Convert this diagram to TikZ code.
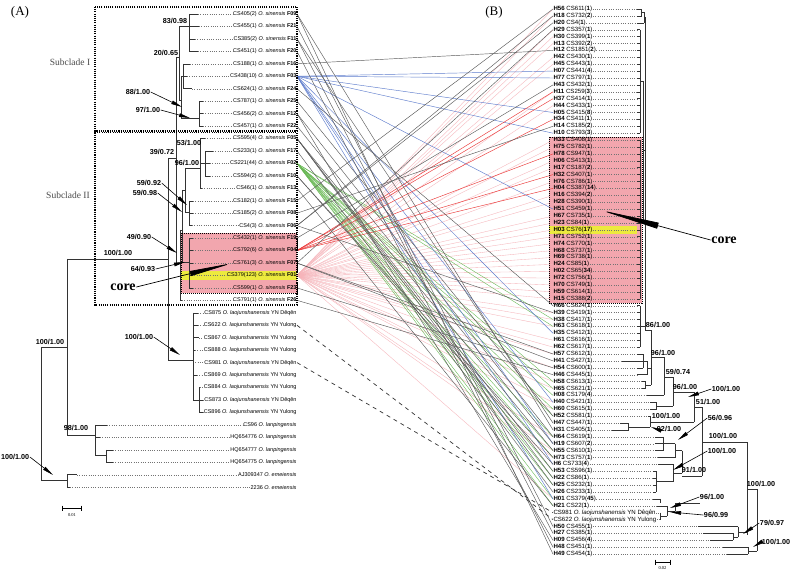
\documentclass[tikz,border=0pt]{standalone}
\usepackage{fontspec}
\setmainfont{Liberation Sans}
\newfontfamily\seriffont{Liberation Serif}
\usetikzlibrary{arrows.meta}
\definecolor{pinkbox}{RGB}{242,166,174}
\definecolor{yelband}{RGB}{236,234,62}
\definecolor{cblue}{RGB}{95,125,205}
\definecolor{cgreen}{RGB}{105,185,85}
\definecolor{cred}{RGB}{235,55,55}
\definecolor{cpink}{RGB}{246,180,186}
\definecolor{cgray}{RGB}{90,90,90}
\newcommand{\LL}[4]{\node[lleaf] (#1) at (297,{14+12.45*#2}) {#4};\draw[leader] (#3,{14+12.45*#2}) -- (#1.west);}
\newcommand{\RL}[4]{\node[rleaf] (#1) at (553,{9+6.9*#2}) {#4};\draw[leader] (#1.east) -- (#3,{9+6.9*#2});}
\newcommand{\Os}{\textit{O. sinensis}}
\newcommand{\Ol}{\textit{O. laojunshanensis}}
\newcommand{\Op}{\textit{O. lanpingensis}}
\newcommand{\Oe}{\textit{O. emeiensis}}
\begin{document}
\begin{tikzpicture}[x=1pt,y=-1pt,
  lleaf/.style={anchor=east,inner sep=0.3pt,font=\fontsize{5.5}{6}\selectfont},
  rleaf/.style={anchor=west,inner sep=0.3pt,font=\fontsize{6.1}{6.5}\selectfont},
  leader/.style={dotted,line width=0.3pt,black!55},
  br/.style={line width=0.55pt,black!80},
  suplab/.style={font=\bfseries\fontsize{7.2}{8}\selectfont,inner sep=0.5pt},
  sarr/.style={line width=0.6pt,-{Triangle[length=11pt,width=3.6pt]}},
  carr/.style={line width=0.7pt,-{Triangle[length=44pt,width=5pt]}},
  corelab/.style={font=\seriffont\bfseries\fontsize{14}{16}\selectfont,inner sep=0.5pt},
  panel/.style={font=\seriffont\fontsize{13}{15}\selectfont,inner sep=0pt},
  subcl/.style={font=\seriffont\fontsize{9.5}{11}\selectfont,text=black!70,inner sep=0pt},
  boxd/.style={line width=1.1pt,dash pattern=on 1.1pt off 1.1pt},
  cg/.style={line width=0.45pt,cgray},
  cb/.style={line width=0.45pt,cblue},
  cgr/.style={line width=0.4pt,cgreen},
  cr/.style={line width=0.45pt,cred},
  cp/.style={line width=0.35pt,cpink},
  cd/.style={line width=0.7pt,black!80,dash pattern=on 4pt off 4pt}]
\useasboundingbox (0,0) rectangle (790,572);
\fill[white] (0,0) rectangle (790,572);
% ---------- backgrounds
\fill[pinkbox] (181,233) rectangle (297,293);
\fill[yelband] (181,271) rectangle (297,280);
\fill[pinkbox] (549,137) rectangle (642,303);
\fill[yelband] (549,226) rectangle (637,234);
% ---------- left leaves
\LL{L0}{0}{198}{CS405(2) \Os{} \textbf{F09}}
\LL{L1}{1}{199}{CS455(1) \Os{} \textbf{F21}}
\LL{L2}{2}{195}{CS385(2) \Os{} \textbf{F11}}
\LL{L3}{3}{198}{CS451(1) \Os{} \textbf{F20}}
\LL{L4}{4}{190}{CS188(1) \Os{} \textbf{F16}}
\LL{L5}{5}{187}{CS438(10) \Os{} \textbf{F03}}
\LL{L6}{6}{192}{CS624(1) \Os{} \textbf{F24}}
\LL{L7}{7}{203}{CS787(1) \Os{} \textbf{F25}}
\LL{L8}{8}{203}{CS456(2) \Os{} \textbf{F12}}
\LL{L9}{9}{203}{CS457(1) \Os{} \textbf{F22}}
\LL{L10}{10}{205}{CS595(4) \Os{} \textbf{F05}}
\LL{L11}{11}{213}{CS233(1) \Os{} \textbf{F17}}
\LL{L12}{12}{210}{CS221(44) \Os{} \textbf{F02}}
\LL{L13}{13}{210}{CS594(2) \Os{} \textbf{F10}}
\LL{L14}{14}{202}{CS46(1) \Os{} \textbf{F13}}
\LL{L15}{15}{193}{CS182(1) \Os{} \textbf{F15}}
\LL{L16}{16}{193}{CS185(2) \Os{} \textbf{F08}}
\LL{L17}{17}{192}{CS4(3) \Os{} \textbf{F06}}
\LL{L18}{18}{193}{CS432(1) \Os{} \textbf{F19}}
\LL{L19}{19}{193}{CS792(6) \Os{} \textbf{F04}}
\LL{L20}{20}{193}{CS761(3) \Os{} \textbf{F07}}
\LL{L21}{21}{192}{CS379(123) \Os{} \textbf{F01}}
\LL{L22}{22}{193}{CS599(1) \Os{} \textbf{F23}}
\LL{L23}{23}{182}{CS791(1) \Os{} \textbf{F26}}
\LL{L24}{24}{198}{CS875 \Ol{} YN Dêqên}
\LL{L25}{25}{198}{CS622 \Ol{} YN Yulong}
\LL{L26}{26}{199}{CS867 \Ol{} YN Yulong}
\LL{L27}{27}{195}{CS888 \Ol{} YN Yulong}
\LL{L28}{28}{193}{CS981 \Ol{} YN Dêqên}
\LL{L29}{29}{197}{CS869 \Ol{} YN Yulong}
\LL{L30}{30}{200}{CS884 \Ol{} YN Yulong}
\LL{L31}{31}{203}{CS873 \Ol{} YN Dêqên}
\LL{L32}{32}{203}{CS896 \Ol{} YN Yulong}
\LL{L33}{33}{107}{CS96 \Op}
\LL{L34}{34}{100}{HQ654776 \Op}
\LL{L35}{35}{113}{HQ654777 \Op}
\LL{L36}{36}{113}{HQ654775 \Op}
\LL{L37}{37}{77}{AJ309347 \Oe}
\LL{L38}{38}{70}{2236 \Oe}
% ---------- right leaves
\RL{R0}{0}{637}{\textbf{H56} CS611(\textbf{1})}
\RL{R1}{1}{637}{\textbf{H18} CS732(\textbf{2})}
\RL{R2}{2}{637}{\textbf{H20} CS4(\textbf{1})}
\RL{R3}{3}{637}{\textbf{H29} CS357(\textbf{1})}
\RL{R4}{4}{637}{\textbf{H30} CS399(\textbf{1})}
\RL{R5}{5}{637}{\textbf{H13} CS392(\textbf{2})}
\RL{R6}{6}{637}{\textbf{H12} CS1851(\textbf{2})}
\RL{R7}{7}{637}{\textbf{H42} CS430(\textbf{1})}
\RL{R8}{8}{637}{\textbf{H45} CS443(\textbf{1})}
\RL{R9}{9}{637}{\textbf{H07} CS441(\textbf{4})}
\RL{R10}{10}{637}{\textbf{H77} CS797(\textbf{1})}
\RL{R11}{11}{637}{\textbf{H43} CS432(\textbf{1})}
\RL{R12}{12}{637}{\textbf{H11} CS259(\textbf{3})}
\RL{R13}{13}{637}{\textbf{H37} CS414(\textbf{1})}
\RL{R14}{14}{637}{\textbf{H44} CS433(\textbf{1})}
\RL{R15}{15}{637}{\textbf{H05} CS415(\textbf{8})}
\RL{R16}{16}{637}{\textbf{H34} CS411(\textbf{1})}
\RL{R17}{17}{637}{\textbf{H14} CS185(\textbf{2})}
\RL{R18}{18}{637}{\textbf{H10} CS793(\textbf{3})}
\RL{R19}{19}{637}{\textbf{H33} CS408(\textbf{1})}
\RL{R20}{20}{637}{\textbf{H75} CS782(\textbf{1})}
\RL{R21}{21}{637}{\textbf{H78} CS947(\textbf{1})}
\RL{R22}{22}{637}{\textbf{H06} CS413(\textbf{1})}
\RL{R23}{23}{637}{\textbf{H17} CS187(\textbf{2})}
\RL{R24}{24}{637}{\textbf{H32} CS407(\textbf{1})}
\RL{R25}{25}{637}{\textbf{H76} CS786(\textbf{1})}
\RL{R26}{26}{637}{\textbf{H04} CS387(\textbf{14})}
\RL{R27}{27}{637}{\textbf{H16} CS394(\textbf{2})}
\RL{R28}{28}{637}{\textbf{H28} CS390(\textbf{1})}
\RL{R29}{29}{637}{\textbf{H51} CS459(\textbf{1})}
\RL{R30}{30}{637}{\textbf{H67} CS735(\textbf{1})}
\RL{R31}{31}{637}{\textbf{H23} CS84(\textbf{1})}
\RL{R32}{32}{637}{\textbf{H03} CS76(\textbf{17})}
\RL{R33}{33}{637}{\textbf{H71} CS752(\textbf{1})}
\RL{R34}{34}{637}{\textbf{H74} CS770(\textbf{1})}
\RL{R35}{35}{637}{\textbf{H68} CS737(\textbf{1})}
\RL{R36}{36}{637}{\textbf{H69} CS738(\textbf{1})}
\RL{R37}{37}{637}{\textbf{H24} CS85(\textbf{1})}
\RL{R38}{38}{637}{\textbf{H02} CS65(\textbf{34})}
\RL{R39}{39}{637}{\textbf{H72} CS756(\textbf{1})}
\RL{R40}{40}{637}{\textbf{H70} CS749(\textbf{1})}
\RL{R41}{41}{637}{\textbf{H59} CS614(\textbf{1})}
\RL{R42}{42}{637}{\textbf{H15} CS388(\textbf{2})}
\RL{R43}{43}{637}{\textbf{H66} CS624(\textbf{1})}
\RL{R44}{44}{637}{\textbf{H39} CS419(\textbf{1})}
\RL{R45}{45}{637}{\textbf{H38} CS417(\textbf{1})}
\RL{R46}{46}{637}{\textbf{H63} CS618(\textbf{1})}
\RL{R47}{47}{637}{\textbf{H35} CS412(\textbf{1})}
\RL{R48}{48}{637}{\textbf{H61} CS616(\textbf{1})}
\RL{R49}{49}{637}{\textbf{H62} CS617(\textbf{1})}
\RL{R50}{50}{637}{\textbf{H57} CS612(\textbf{1})}
\RL{R51}{51}{622}{\textbf{H41} CS427(\textbf{1})}
\RL{R52}{52}{637}{\textbf{H54} CS600(\textbf{1})}
\RL{R53}{53}{637}{\textbf{H46} CS445(\textbf{1})}
\RL{R54}{54}{642}{\textbf{H58} CS613(\textbf{1})}
\RL{R55}{55}{642}{\textbf{H65} CS621(\textbf{1})}
\RL{R56}{56}{647}{\textbf{H08} CS179(\textbf{4})}
\RL{R57}{57}{650}{\textbf{H40} CS421(\textbf{1})}
\RL{R58}{58}{650}{\textbf{H60} CS615(\textbf{1})}
\RL{R59}{59}{648}{\textbf{H52} CS581(\textbf{1})}
\RL{R60}{60}{620}{\textbf{H47} CS447(\textbf{1})}
\RL{R61}{61}{612}{\textbf{H31} CS405(\textbf{1})}
\RL{R62}{62}{655}{\textbf{H64} CS619(\textbf{1})}
\RL{R63}{63}{655}{\textbf{H19} CS607(\textbf{2})}
\RL{R64}{64}{655}{\textbf{H55} CS610(\textbf{1})}
\RL{R65}{65}{658}{\textbf{H73} CS757(\textbf{1})}
\RL{R66}{66}{658}{\textbf{H6} CS733(\textbf{4})}
\RL{R67}{67}{653}{\textbf{H53} CS596(\textbf{1})}
\RL{R68}{68}{653}{\textbf{H22} CS86(\textbf{1})}
\RL{R69}{69}{653}{\textbf{H25} CS232(\textbf{1})}
\RL{R70}{70}{653}{\textbf{H26} CS233(\textbf{1})}
\RL{R71}{71}{653}{\textbf{H01} CS379(\textbf{45})}
\RL{R72}{72}{657}{\textbf{H21} CS22(\textbf{1})}
\RL{R73}{73}{660}{CS981 \Ol{} YN Dêqên}
\RL{R74}{74}{660}{CS622 \Ol{} YN Yulong}
\RL{R75}{75}{698}{\textbf{H50} CS455(\textbf{1})}
\RL{R76}{76}{703}{\textbf{H27} CS385(\textbf{1})}
\RL{R77}{77}{710}{\textbf{H09} CS456(\textbf{4})}
\RL{R78}{78}{723}{\textbf{H48} CS451(\textbf{1})}
\RL{R79}{79}{727}{\textbf{H49} CS454(\textbf{1})}
% ---------- connectors
\foreach \b in {0,1,3,4,5,7,8,12,14,19,20,22,23,25,27,28,30,31,32,33,34,35,36,37,38,39,40,41,42,44,45,46,48,49,50,52,54,55,57,58,62,64,65,71}
  \draw[cp] (L21.east) -- (R\b.west);
\foreach \b in {45,46,54,55,56,58,59,62,64,65,67,68,69,71,72}
  \draw[cgr] (L12.east) -- (R\b.west);
\foreach \b in {9,10,15,18,29,47,57,63,66,71}
  \draw[cb] (L5.east) -- (R\b.west);
\foreach \b in {12,13,16,21,24,26}
  \draw[cr] (L19.east) -- (R\b.west);
\foreach \a/\b in {L0/R61,L0/R79,L1/R75,L2/R76,L2/R60,L3/R78,L4/R6,L6/R43,L7/R59,L8/R77,L8/R62,L9/R63,L10/R67,L10/R68,L10/R69,L10/R64,L11/R70,L13/R65,L13/R66,L14/R72,L15/R0,L16/R17,L17/R2,L17/R1,L17/R44,L18/R11,L20/R3,L20/R50,L20/R51,L22/R52,L23/R53}
  \draw[cg] (\a.east) -- (\b.west);
\draw[cd] (L25.east) -- (R74.west);
\draw[cd] (L28.east) -- (R73.west);
% ---------- left tree
\begin{scope}[br]
\draw (189,14)--(198,14) (189,26.5)--(199,26.5) (189,38.9)--(195,38.9) (189,51.4)--(198,51.4) (189,14)--(189,51.4);
\draw (179,26.5)--(189,26.5) (179,26.5)--(179,100) (179,100)--(181,100) (181,76.3)--(181,118);
\draw (183,63.8)--(183,88.7) (183,63.8)--(190,63.8) (183,76.3)--(187,76.3) (183,88.7)--(192,88.7) (181,76.3)--(183,76.3);
\draw (199,101.2)--(199,126.1) (199,101.2)--(203,101.2) (199,113.6)--(203,113.6) (199,126.1)--(203,126.1) (181,118)--(199,118);
\draw (176,57)--(179,57) (176,57)--(176,263) (168,158)--(176,158);
\draw (176,263)--(180,263) (180,230)--(180,300.4) (180,300.4)--(182,300.4);
\draw (180,230)--(182,230) (182,190)--(182,262);
\draw (182,262)--(189,262) (189,238.1)--(189,287.9) (189,238.1)--(193,238.1) (189,250.6)--(193,250.6) (189,263)--(193,263) (189,275.5)--(192,275.5) (189,287.9)--(193,287.9);
\draw (182,190)--(185,190) (185,168)--(185,212);
\draw (185,212)--(189,212) (189,200.8)--(189,225.7) (189,200.8)--(193,200.8) (189,213.2)--(193,213.2) (189,225.7)--(192,225.7);
\draw (185,168)--(200,168) (200,138.5)--(200,188.3) (200,138.5)--(205,138.5) (200,188.3)--(202,188.3);
\draw (200,163)--(205,163) (205,151)--(205,175.9) (205,151)--(213,151) (205,163.4)--(210,163.4) (205,175.9)--(210,175.9);
\draw (67,259)--(168,259) (168,158)--(168,360) (168,360)--(193,360) (193,312.8)--(193,400);
\draw (193,312.8)--(198,312.8) (193,325.3)--(198,325.3) (193,337.7)--(199,337.7) (193,350.2)--(195,350.2) (193,375.1)--(197,375.1);
\draw (193,400)--(199,400) (199,387.5)--(199,412.4) (199,387.5)--(200,387.5) (199,400)--(203,400) (199,412.4)--(203,412.4);
\draw (41,347)--(41,480) (41,347)--(67,347) (41,480)--(67,480) (67,259)--(67,435) (67,435)--(95,435);
\draw (95,424.9)--(95,455) (95,424.9)--(107,424.9) (95,437.3)--(100,437.3) (95,455)--(106,455) (106,449.8)--(106,462.2) (106,449.8)--(113,449.8) (106,462.2)--(113,462.2);
\draw (67,474.7)--(67,487.1) (67,474.7)--(77,474.7) (67,487.1)--(70,487.1);
\end{scope}
% ---------- right tree
\begin{scope}[br]
\draw (637,9)--(641,9)--(641,15.9)--(637,15.9) (641,12.5)--(644,12.5) (637,22.8)--(644,22.8) (644,12.5)--(644,22.8) (644,17)--(645,17);
\foreach \j in {3,...,18} \draw (637,{9+6.9*\j})--(640,{9+6.9*\j});
\draw (640,29.7)--(640,133.2);
\foreach \j in {19,...,42} \draw (637,{9+6.9*\j})--(640,{9+6.9*\j});
\draw (640,140.1)--(640,298.8);
\foreach \j in {43,...,49} \draw (637,{9+6.9*\j})--(640,{9+6.9*\j});
\draw (640,305.7)--(640,347.1);
\draw (640,81)--(643,81) (640,220)--(643,220) (643,81)--(643,220) (643,150)--(645,150) (640,326)--(645,326);
\draw (645,17)--(645,330) (645,330)--(651,330) (651,330)--(651,385);
\draw (642,381.6)--(645,381.6)--(645,388.5)--(642,388.5) (645,385)--(651,385);
\draw (637,354)--(643,354) (622,360.9)--(643,360.9) (637,367.8)--(643,367.8) (643,354)--(643,367.8) (643,361)--(647,361) (637,374.7)--(647,374.7) (647,361)--(647,374.7) (647,368)--(651,368);
\draw (651,357)--(664,357) (664,357)--(664,395.4) (647,395.4)--(664,395.4);
\draw (664,377)--(673,377) (673,377)--(673,405.8) (650,402.3)--(656,402.3)--(656,409.2)--(650,409.2) (656,405.8)--(673,405.8);
\draw (673,392)--(694,392) (694,392)--(694,422) (650,422)--(694,422);
\draw (648,416.1)--(650,416.1) (650,416.1)--(650,427) (620,423)--(628,423)--(628,429.9)--(612,429.9) (628,427)--(650,427);
\draw (694,407)--(702,407) (702,407)--(702,476);
\draw (655,436.8)--(663,436.8) (655,443.7)--(663,443.7) (655,450.6)--(663,450.6) (663,436.8)--(663,450.6) (663,443.7)--(675,443.7) (658,457.5)--(675,457.5) (675,443.7)--(675,457.5) (675,450.6)--(682,450.6);
\draw (658,464.4)--(673,464.4) (673,464.4)--(673,481.6) (653,471.3)--(656,471.3) (653,478.2)--(656,478.2) (653,485.1)--(656,485.1) (653,492)--(656,492) (656,471.3)--(656,492) (656,481.6)--(673,481.6) (673,473)--(682,473) (682,450.6)--(682,473) (682,476)--(702,476);
\draw (653,498.9)--(660,498.9) (657,505.8)--(667,505.8) (660,512.7)--(660,519.6) (660,516)--(667,516) (667,505.8)--(667,516) (667,511)--(675,511) (660,498.9)--(660,503) (675,503)--(675,511);
\draw (702,442)--(747,442) (747,442)--(747,535) (675,503)--(700,503) ;
\draw (698,526.5)--(738,526.5) (703,533.4)--(733,533.4) (733,533.4)--(733,540.3) (710,540.3)--(733,540.3) (733,537)--(738,537) (738,526.5)--(738,537) (738,532)--(747,532);
\draw (747,489)--(757,489) (757,489)--(757,551) (723,547.2)--(748,547.2) (727,554.1)--(748,554.1) (748,547.2)--(748,554.1) (748,551)--(757,551);
\end{scope}
% ---------- boxes
\draw[boxd] (95,7) rectangle (297,131);
\draw[boxd] (95,132.5) rectangle (297,305);
\draw[line width=0.8pt,dash pattern=on 1pt off 1pt] (181,233) rectangle (297,293);
\draw[line width=0.9pt,dash pattern=on 1pt off 1pt] (549,137) rectangle (642,303);
% ---------- panel labels
\node[panel] (pA) at (20,12) {(A)};
\node[panel] (pB) at (494,12) {(B)};
\node[subcl] (sI) at (70,62) {Subclade I};
\node[subcl] (sII) at (68,195) {Subclade II};
% ---------- support values left
\node[suplab] (a1) at (175,21) {83/0.98};
\node[suplab] (a2) at (166,53) {20/0.65};
\node[suplab] (a3) at (138,92) {88/1.00};
\node[suplab] (a4) at (148,110) {97/1.00};
\node[suplab] (a5) at (189,143) {53/1.00};
\node[suplab] (a6) at (162,152) {39/0.72};
\node[suplab] (a7) at (187,163) {96/1.00};
\node[suplab] (a8) at (149,183) {59/0.92};
\node[suplab] (a9) at (145,193) {59/0.98};
\node[suplab] (a10) at (139,237) {49/0.90};
\node[suplab] (a11) at (118,253) {100/1.00};
\node[suplab] (a12) at (143,269) {64/0.93};
\node[suplab] (a13) at (139,337) {100/1.00};
\node[suplab] (a14) at (50,342) {100/1.00};
\node[suplab] (a15) at (76,428) {98/1.00};
\node[suplab,anchor=west] (a16) at (0.5,457) {100/1.00};
\coordinate (t3) at (182,107);
\coordinate (t4) at (190,118);
\coordinate (t8) at (187,205);
\coordinate (t9) at (182,212);
\coordinate (t10) at (177,253);
\coordinate (t12) at (185,262);
\coordinate (t13) at (180,355);
\coordinate (t16) at (53,475);
\draw[sarr] (a3.east) -- (t3);
\draw[sarr] (a4.east) -- (t4);
\draw[sarr] (a8.east) -- (t8);
\draw[sarr] (a9.east) -- (t9);
\draw[sarr] (a10.east) -- (t10);
\draw[sarr] (a12.east) -- (t12);
\draw[sarr] (a13.east) -- (t13);
\draw[sarr] (a16.east) -- (t16);
% ---------- support values right
\node[suplab] (b1) at (658,325) {86/1.00};
\node[suplab] (b2) at (663,353) {96/1.00};
\node[suplab] (b3) at (678,372) {59/0.74};
\node[suplab] (b4) at (685,387) {96/1.00};
\node[suplab] (b5) at (726,389) {100/1.00};
\node[suplab] (b6) at (708,402) {51/1.00};
\node[suplab] (b7) at (666,416) {100/1.00};
\node[suplab] (b8) at (669,429) {92/1.00};
\node[suplab] (b9) at (720,418) {56/0.96};
\node[suplab] (b10) at (723,436) {100/1.00};
\node[suplab] (b11) at (722,451) {100/1.00};
\node[suplab] (b12) at (694,470) {91/1.00};
\node[suplab] (b13) at (761,484) {100/1.00};
\node[suplab] (b14) at (712,497) {96/1.00};
\node[suplab] (b15) at (716,515) {96/0.99};
\node[suplab] (b16) at (772,523) {79/0.97};
\node[suplab] (b17) at (776,542) {100/1.00};
\coordinate (u5) at (688,397);
\coordinate (u9) at (678,440);
\coordinate (u11) at (673,470);
\coordinate (u14) at (670,508);
\coordinate (u15) at (670,512);
\coordinate (u16) at (743,534);
\coordinate (u17) at (753,547);
\coordinate (u8) at (651,427);
\draw[sarr] (b5.west) -- (u5);
\draw[sarr] (b9.west) -- (u9);
\draw[sarr] (b11.west) -- (u11);
\draw[sarr] (b14.west) -- (u14);
\draw[sarr] (b15.west) -- (u15);
\draw[sarr] (b16.west) -- (u16);
\draw[sarr] (b17.west) -- (u17);
\draw[sarr] (b8.west) -- (u8);
% ---------- core labels
\node[corelab] (coreA) at (123,287) {core};
\coordinate (cA) at (233,263);
\draw[carr] (coreA.east) -- (cA);
\node[corelab] (coreB) at (724,240) {core};
\coordinate (cB) at (600,210);
\draw[carr,-{Triangle[length=60pt,width=6pt]}] (coreB.west) -- (cB);
% ---------- scale bars
\draw[line width=0.5pt] (62,508)--(81,508) (62,505.5)--(62,510.5) (81,505.5)--(81,510.5);
\node[font=\seriffont\fontsize{4.5}{5}\selectfont] (sA) at (72,515) {0.01};
\draw[line width=0.5pt] (655,562)--(670,562) (655,559.5)--(655,564.5) (670,559.5)--(670,564.5);
\node[font=\seriffont\fontsize{4.5}{5}\selectfont] (sB) at (662.5,568.5) {0.02};
\end{tikzpicture}
\end{document}
